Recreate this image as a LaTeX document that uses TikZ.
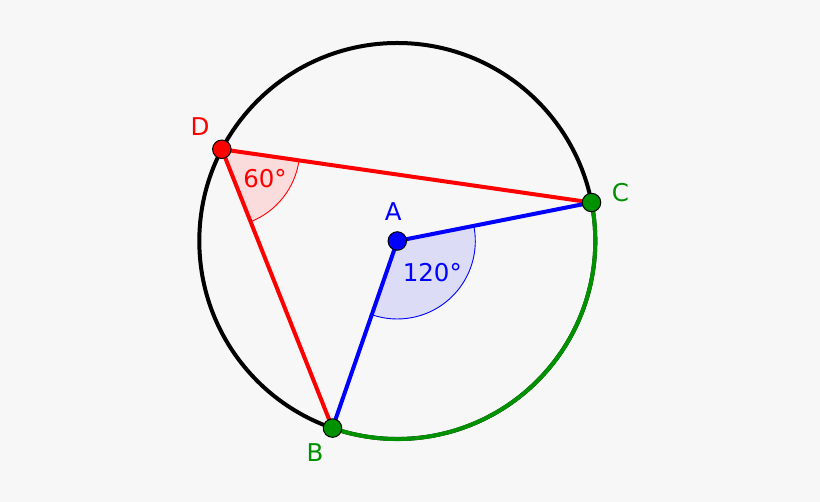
\documentclass[tikz,border=0pt]{standalone}
\usepackage{fontspec}
\setmainfont{DejaVu Sans}
\usetikzlibrary{calc}
\definecolor{bg}{HTML}{F7F7F7}
\definecolor{ggreen}{RGB}{0,145,0}
\definecolor{rfill}{HTML}{FADCDC}
\definecolor{bfill}{HTML}{DCDCF6}
\begin{document}
\begin{tikzpicture}[x=1pt,y=1pt,
  seg/.style={line width=4pt},
  pt/.style={circle,draw=black,line width=1pt,inner sep=0pt,minimum size=18.5pt},
  lbl/.style={font=\fontsize{24.5}{28}\selectfont,inner sep=0pt},
  angarc/.style={line width=0.9pt}]
\fill[bg] (0,0) rectangle (820,502);
\useasboundingbox (0,0) rectangle (820,502);
\coordinate (A) at (397.3,261);
\coordinate (C) at ($(A)+(11.2:198)$);
\coordinate (B) at ($(A)+(-109.1:198)$);
\coordinate (D) at ($(A)+(152.4:198)$);
% angle sectors
\fill[rfill] (D) -- ($(D)+(-8.2:78)$) arc[start angle=-8.2,end angle=-68.3,radius=78] -- cycle;
\draw[red,angarc] ($(D)+(-8.2:78)$) arc[start angle=-8.2,end angle=-68.3,radius=78];
\fill[bfill] (A) -- ($(A)+(11.2:78)$) arc[start angle=11.2,end angle=-109.1,radius=78] -- cycle;
\draw[blue,angarc] ($(A)+(11.2:78)$) arc[start angle=11.2,end angle=-109.1,radius=78];
% circle and arc
\draw[black,line width=4pt] (A) circle[radius=198];
\draw[ggreen,line width=4pt] (B) arc[start angle=-109.1,end angle=11.2,radius=198];
% segments
\draw[red,seg] (D) -- (C);
\draw[red,seg] (D) -- (B);
\draw[blue,seg] (A) -- (C);
\draw[blue,seg] (A) -- (B);
% points
\node[pt,fill=blue] (nA) at (A) {};
\node[pt,fill=ggreen] (nB) at (B) {};
\node[pt,fill=ggreen] (nC) at (C) {};
\node[pt,fill=red] (nD) at (D) {};
% labels
\node[lbl,text=red] (lD) at (200,375.3) {D};
\node[lbl,text=blue] (lA) at (393.3,290.3) {A};
\node[lbl,text=ggreen] (lC) at (620.5,309) {C};
\node[lbl,text=ggreen] (lB) at (315,49) {B};
\node[lbl,text=red] (t60) at (265,323) {60°};
\node[lbl,text=blue] (t120) at (432.3,229.7) {120°};
\end{tikzpicture}
\end{document}
